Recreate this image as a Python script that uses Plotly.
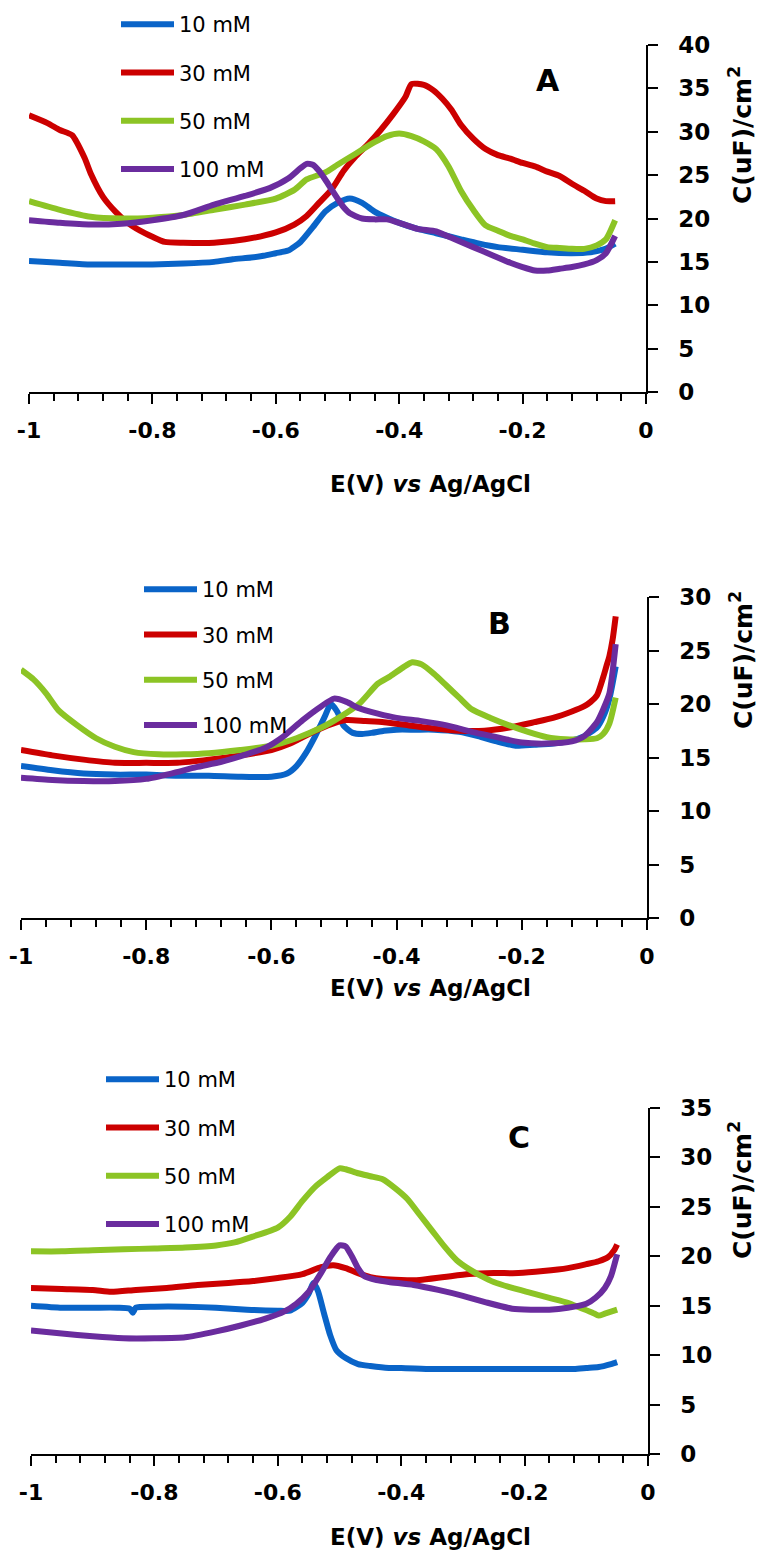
import plotly.graph_objects as go

# ---------------- DATA ----------------
SERIES_NAMES = ["10 mM", "30 mM", "50 mM", "100 mM"]
X_TICK_VALS = [-1, -0.8, -0.6, -0.4, -0.2, 0]
X_TICK_LABELS = ["-1", "-0.8", "-0.6", "-0.4", "-0.2", "0"]

# Panel A
A_E_10 = [-1, -0.95, -0.9, -0.85, -0.8, -0.75, -0.7, -0.67, -0.64, -0.62, -0.6, -0.58, -0.56, -0.54, -0.52, -0.5, -0.48, -0.46, -0.44, -0.42, -0.4, -0.37, -0.34, -0.3, -0.27, -0.24, -0.2, -0.16, -0.12, -0.09, -0.07, -0.06, -0.05]
A_C_10 = [15.1, 14.9, 14.7, 14.7, 14.7, 14.8, 15.0, 15.3, 15.5, 15.7, 16.0, 16.3, 17.3, 19.0, 20.8, 21.8, 22.3, 21.8, 20.8, 20.1, 19.5, 18.8, 18.3, 17.6, 17.1, 16.7, 16.4, 16.1, 16.0, 16.1, 16.4, 16.7, 17.1]
A_E_30 = [-1, -0.97, -0.95, -0.93, -0.91, -0.9, -0.88, -0.86, -0.84, -0.82, -0.8, -0.78, -0.75, -0.7, -0.65, -0.6, -0.57, -0.55, -0.53, -0.51, -0.49, -0.47, -0.45, -0.43, -0.41, -0.39, -0.38, -0.36, -0.345, -0.33, -0.315, -0.3, -0.28, -0.26, -0.24, -0.22, -0.2, -0.18, -0.16, -0.14, -0.12, -0.1, -0.08, -0.065, -0.05]
A_C_30 = [31.9, 31.0, 30.2, 29.6, 27.0, 25.2, 22.5, 20.8, 19.5, 18.6, 17.9, 17.3, 17.2, 17.2, 17.6, 18.4, 19.3, 20.3, 21.8, 23.3, 25.5, 27.2, 28.6, 30.2, 32.0, 34.0, 35.5, 35.4, 34.8, 33.8, 32.5, 30.8, 29.2, 28.0, 27.3, 26.9, 26.4, 26.0, 25.4, 24.9, 24.0, 23.2, 22.3, 22.0, 22.0]
A_E_50 = [-1, -0.95, -0.9, -0.85, -0.8, -0.75, -0.7, -0.65, -0.6, -0.57, -0.55, -0.52, -0.5, -0.47, -0.44, -0.42, -0.4, -0.38, -0.36, -0.34, -0.32, -0.3, -0.28, -0.26, -0.24, -0.22, -0.2, -0.18, -0.16, -0.14, -0.12, -0.1, -0.08, -0.065, -0.05]
A_C_50 = [22.0, 21.0, 20.2, 20.0, 20.1, 20.4, 21.0, 21.6, 22.3, 23.3, 24.5, 25.3, 26.2, 27.5, 28.8, 29.5, 29.8, 29.5, 28.9, 28.0, 26.0, 23.2, 21.0, 19.2, 18.6, 18.0, 17.6, 17.1, 16.7, 16.6, 16.5, 16.5, 16.9, 17.6, 19.8]
A_E_100 = [-1, -0.95, -0.9, -0.85, -0.8, -0.75, -0.7, -0.65, -0.61, -0.58, -0.56, -0.55, -0.54, -0.53, -0.52, -0.51, -0.5, -0.49, -0.48, -0.46, -0.44, -0.42, -0.4, -0.37, -0.34, -0.31, -0.28, -0.25, -0.22, -0.2, -0.18, -0.16, -0.14, -0.12, -0.1, -0.08, -0.065, -0.05]
A_C_100 = [19.8, 19.5, 19.3, 19.4, 19.8, 20.4, 21.6, 22.6, 23.5, 24.6, 25.8, 26.3, 26.2, 25.5, 24.5, 23.4, 22.3, 21.3, 20.6, 20.0, 19.9, 19.9, 19.5, 18.8, 18.5, 17.6, 16.7, 15.8, 14.9, 14.4, 14.0, 14.0, 14.2, 14.4, 14.7, 15.2, 16.0, 18.0]

# Panel B
B_E_10 = [-1, -0.95, -0.9, -0.85, -0.8, -0.75, -0.7, -0.65, -0.6, -0.575, -0.56, -0.545, -0.53, -0.515, -0.505, -0.495, -0.485, -0.47, -0.455, -0.44, -0.42, -0.4, -0.37, -0.34, -0.3, -0.27, -0.24, -0.21, -0.18, -0.15, -0.12, -0.1, -0.08, -0.07, -0.06, -0.05]
B_C_10 = [14.2, 13.8, 13.5, 13.4, 13.4, 13.3, 13.3, 13.2, 13.2, 13.5, 14.2, 15.4, 17.0, 18.8, 20.0, 19.3, 18.0, 17.3, 17.2, 17.3, 17.5, 17.6, 17.6, 17.6, 17.4, 17.0, 16.5, 16.1, 16.2, 16.3, 16.6, 17.0, 17.8, 18.8, 20.5, 23.5]
B_E_30 = [-1, -0.95, -0.9, -0.85, -0.8, -0.75, -0.7, -0.65, -0.6, -0.57, -0.54, -0.51, -0.48, -0.45, -0.42, -0.38, -0.34, -0.3, -0.26, -0.22, -0.18, -0.15, -0.12, -0.1, -0.09, -0.08, -0.07, -0.065, -0.06, -0.055, -0.05]
B_C_30 = [15.7, 15.2, 14.8, 14.5, 14.5, 14.5, 14.8, 15.2, 15.7, 16.3, 17.2, 18.0, 18.5, 18.4, 18.3, 18.0, 17.7, 17.5, 17.5, 17.8, 18.3, 18.7, 19.3, 19.8, 20.2, 20.8, 22.5, 23.5, 24.5, 26.0, 28.2]
B_E_50 = [-1, -0.98, -0.96, -0.94, -0.91, -0.88, -0.85, -0.82, -0.78, -0.74, -0.7, -0.65, -0.6, -0.56, -0.52, -0.49, -0.46, -0.43, -0.41, -0.39, -0.375, -0.36, -0.34, -0.32, -0.3, -0.28, -0.25, -0.22, -0.19, -0.16, -0.13, -0.1, -0.08, -0.07, -0.06, -0.05]
B_C_50 = [23.2, 22.3, 21.0, 19.4, 18.0, 16.8, 16.0, 15.5, 15.3, 15.3, 15.4, 15.7, 16.1, 16.8, 17.8, 18.8, 20.0, 21.9, 22.6, 23.4, 23.9, 23.7, 22.8, 21.7, 20.6, 19.5, 18.7, 18.0, 17.4, 16.9, 16.7, 16.7, 16.8, 17.2, 18.2, 20.6]
B_E_100 = [-1, -0.95, -0.9, -0.85, -0.8, -0.76, -0.72, -0.68, -0.64, -0.61, -0.58, -0.55, -0.52, -0.5, -0.48, -0.46, -0.43, -0.4, -0.36, -0.32, -0.28, -0.24, -0.2, -0.16, -0.12, -0.1, -0.08, -0.07, -0.06, -0.055, -0.05]
B_C_100 = [13.1, 12.9, 12.8, 12.8, 13.0, 13.5, 14.1, 14.6, 15.3, 15.9, 17.0, 18.5, 19.8, 20.5, 20.2, 19.6, 19.1, 18.7, 18.4, 18.0, 17.4, 16.9, 16.4, 16.3, 16.5, 17.0, 18.3, 19.5, 21.0, 23.0, 25.6]

# Panel C
C_E_10 = [-1, -0.95, -0.9, -0.86, -0.84, -0.835, -0.83, -0.8, -0.75, -0.7, -0.65, -0.6, -0.58, -0.56, -0.55, -0.542, -0.535, -0.525, -0.515, -0.505, -0.49, -0.47, -0.45, -0.42, -0.4, -0.35, -0.3, -0.25, -0.2, -0.15, -0.12, -0.1, -0.08, -0.06, -0.05]
C_C_10 = [15.0, 14.8, 14.8, 14.8, 14.7, 14.3, 14.8, 14.9, 14.9, 14.8, 14.6, 14.5, 14.5, 15.3, 16.2, 17.3, 16.5, 14.2, 12.0, 10.5, 9.7, 9.1, 8.9, 8.7, 8.7, 8.6, 8.6, 8.6, 8.6, 8.6, 8.6, 8.7, 8.8, 9.1, 9.3]
C_E_30 = [-1, -0.95, -0.9, -0.87, -0.83, -0.78, -0.73, -0.68, -0.64, -0.6, -0.56, -0.53, -0.51, -0.49, -0.47, -0.45, -0.43, -0.4, -0.37, -0.33, -0.29, -0.25, -0.21, -0.17, -0.13, -0.1, -0.08, -0.065, -0.055, -0.05]
C_C_30 = [16.8, 16.7, 16.6, 16.4, 16.6, 16.8, 17.1, 17.3, 17.5, 17.8, 18.2, 18.9, 19.1, 18.8, 18.3, 17.9, 17.7, 17.6, 17.6, 17.9, 18.2, 18.3, 18.3, 18.5, 18.8, 19.2, 19.5, 19.9, 20.6, 21.2]
C_E_50 = [-1, -0.95, -0.9, -0.85, -0.8, -0.75, -0.7, -0.67, -0.64, -0.6, -0.58, -0.56, -0.54, -0.52, -0.5, -0.49, -0.47, -0.45, -0.43, -0.41, -0.39, -0.37, -0.35, -0.33, -0.31, -0.29, -0.27, -0.25, -0.22, -0.19, -0.16, -0.13, -0.11, -0.09, -0.08, -0.07, -0.06, -0.05]
C_C_50 = [20.5, 20.5, 20.6, 20.7, 20.8, 20.9, 21.1, 21.4, 22.0, 22.9, 24.0, 25.6, 27.0, 28.0, 28.9, 28.8, 28.4, 28.1, 27.8, 26.9, 25.8, 24.2, 22.6, 21.0, 19.6, 18.7, 18.0, 17.4, 16.8, 16.3, 15.8, 15.3, 14.8, 14.3, 14.0, 14.2, 14.4, 14.6]
C_E_100 = [-1, -0.95, -0.9, -0.85, -0.8, -0.75, -0.7, -0.66, -0.62, -0.59, -0.57, -0.55, -0.53, -0.515, -0.5, -0.49, -0.48, -0.47, -0.46, -0.44, -0.42, -0.38, -0.34, -0.3, -0.26, -0.22, -0.19, -0.16, -0.13, -0.1, -0.085, -0.07, -0.06, -0.05]
C_C_100 = [12.5, 12.2, 11.9, 11.7, 11.7, 11.8, 12.4, 13.0, 13.7, 14.4, 15.2, 16.4, 18.3, 19.9, 21.1, 21.0, 20.0, 18.8, 18.0, 17.6, 17.4, 17.1, 16.6, 16.0, 15.3, 14.7, 14.6, 14.6, 14.8, 15.2, 15.8, 16.8, 18.0, 20.2]

PANEL_LABELS = ["A", "B", "C"]
Y_MAX = [40, 30, 35]

# ---------------- STYLE / LAYOUT ----------------
COLORS = ["#0A64C8", "#CC0000", "#8CC425", "#6A2C9E"]
FONT = "DejaVu Sans"
W, H = 762, 1555

def fx(p):
    return p / W

def fy(p):
    return 1 - p / H

# pixel geometry of each panel: (x_left, x_right, y_top, y_bottom)
GEOM = [(29, 646, 45, 392), (21, 647, 597, 918), (31, 648, 1108, 1454)]
LEGEND_POS = [(116, 4), (139, 569), (101, 1059)]
LEGEND_GAP = [18, 15, 18]
LETTER_POS = [(548, 80), (499, 623), (519, 1137)]
YTITLE_POS = [(740, 135), (741, 660), (740, 1190)]
XTITLE_POS = [(431, 484), (431, 988), (431, 1537)]

panel_data = [
    [(A_E_10, A_C_10), (A_E_30, A_C_30), (A_E_50, A_C_50), (A_E_100, A_C_100)],
    [(B_E_10, B_C_10), (B_E_30, B_C_30), (B_E_50, B_C_50), (B_E_100, B_C_100)],
    [(C_E_10, C_C_10), (C_E_30, C_C_30), (C_E_50, C_C_50), (C_E_100, C_C_100)],
]

fig = go.Figure()
layout = dict(
    width=W, height=H, margin=dict(l=0, r=0, t=0, b=0, pad=0, autoexpand=False),
    paper_bgcolor="white", plot_bgcolor="white",
    font=dict(family=FONT, color="black"),
    annotations=[],
)

for i, series in enumerate(panel_data):
    n = "" if i == 0 else str(i + 1)
    xa, ya = "x" + n, "y" + n
    leg = "legend" + n
    for j, (ex, cy) in enumerate(series):
        fig.add_trace(go.Scatter(
            x=ex, y=cy, mode="lines", name=SERIES_NAMES[j],
            line=dict(color=COLORS[j], width=6, shape="spline", smoothing=0.6),
            xaxis=xa, yaxis=ya, legend=leg,
            legendgroup=f"{PANEL_LABELS[i]}{j}",
        ))
    xl, xr, yt, yb = GEOM[i]
    layout["xaxis" + n] = dict(
        domain=[fx(xl), fx(xr)], range=[-1, 0], anchor=ya,
        showline=True, linecolor="black", linewidth=1.5,
        ticks="outside", ticklen=10, tickwidth=1.5, tickcolor="black",
        tickvals=X_TICK_VALS, ticktext=X_TICK_LABELS,
        tickfont=dict(family=FONT, size=22, color="black", weight="bold"),
        ticklabelstandoff=8,
        minor=dict(ticks="outside", dtick=0.04, tick0=0, ticklen=7, tickwidth=1.5, tickcolor="black"),
        showgrid=False, zeroline=False, fixedrange=True,
    )
    layout["yaxis" + n] = dict(
        domain=[fy(yb), fy(yt)], range=[0, Y_MAX[i]], anchor=xa, side="right",
        showline=True, linecolor="black", linewidth=1.5,
        ticks="outside", ticklen=10, tickwidth=1.5, tickcolor="black",
        dtick=5, tick0=0,
        tickfont=dict(family=FONT, size=23, color="black", weight="bold"),
        ticklabelstandoff=16,
        showgrid=False, zeroline=False, fixedrange=True,
    )
    lx, ly = LEGEND_POS[i]
    layout[leg] = dict(
        x=fx(lx), y=fy(ly), xanchor="left", yanchor="top",
        xref="paper", yref="paper",
        bgcolor="rgba(0,0,0,0)", borderwidth=0,
        font=dict(family=FONT, size=21, color="black"),
        itemwidth=53, tracegroupgap=LEGEND_GAP[i],
    )
    px_, py_ = LETTER_POS[i]
    layout["annotations"].append(dict(
        x=fx(px_), y=fy(py_), xref="paper", yref="paper", showarrow=False,
        text=PANEL_LABELS[i], font=dict(family=FONT, size=30, color="black", weight="bold"),
        xanchor="center", yanchor="middle",
    ))
    tx, ty = YTITLE_POS[i]
    layout["annotations"].append(dict(
        x=fx(tx), y=fy(ty), xref="paper", yref="paper", showarrow=False,
        text="C(uF)/cm<sup>2</sup>", textangle=-90,
        font=dict(family=FONT, size=25, color="black", weight="bold"),
        xanchor="center", yanchor="middle",
    ))
    qx, qy = XTITLE_POS[i]
    layout["annotations"].append(dict(
        x=fx(qx), y=fy(qy), xref="paper", yref="paper", showarrow=False,
        text="E(V) <i>vs</i> Ag/AgCl",
        font=dict(family=FONT, size=23, color="black", weight="bold"),
        xanchor="center", yanchor="middle",
    ))

fig.update_layout(**layout)
fig.update_layout(showlegend=True)
fig.write_html("out.html")
